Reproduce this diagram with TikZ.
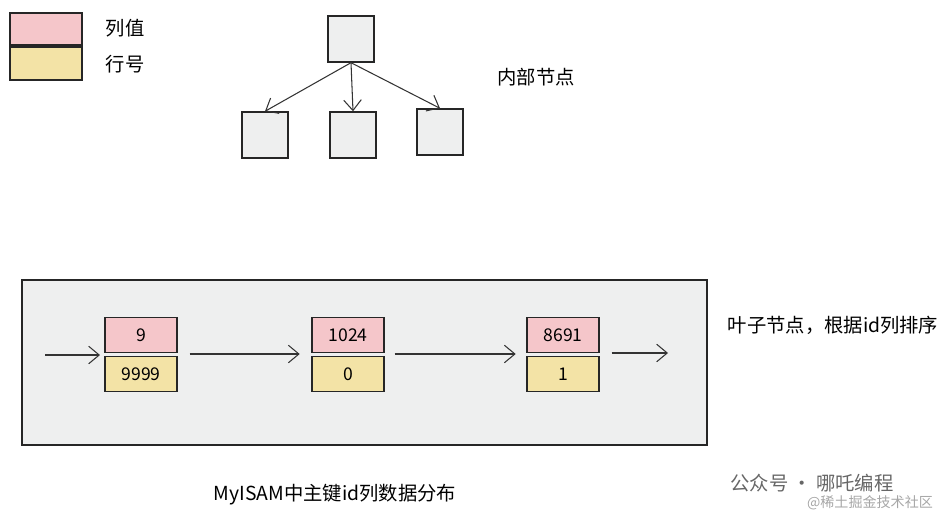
\documentclass[tikz,border=0pt]{standalone}
\usepackage{fontspec}
\setmainfont{Noto Sans CJK SC}
\usetikzlibrary{arrows.meta}
\definecolor{cellred}{HTML}{F5C6CA}
\definecolor{cellyellow}{HTML}{F3E3A6}
\definecolor{boxgray}{HTML}{EEEFEF}
\tikzset{
    cell/.style = {draw = black!85, thick},
    link/.style = {draw = black!80, semithick, -{Straight Barb[length=6pt,width=10pt]}},
    lbl/.style = {font = \fontsize{11}{13}\selectfont}
}
\begin{document}
\begin{tikzpicture}[x=0.02cm,y=-0.02cm]
    \useasboundingbox (0,0) rectangle (952,520);
    % legend
    \draw[cell, fill = cellred] (10,13) rectangle (82,45);
    \draw[cell, fill = cellyellow] (10,47) rectangle (82,80);
    \node[lbl] (lgval) at (125,28) {列值};
    \node[lbl] (lgrow) at (125,64) {行号};
    % inner nodes
    \node[cell, fill = boxgray, minimum size = 0.92cm, inner sep = 0pt] (root) at (351,39) {};
    \node[cell, fill = boxgray, minimum size = 0.92cm, inner sep = 0pt] (kidA) at (265,135) {};
    \node[cell, fill = boxgray, minimum size = 0.92cm, inner sep = 0pt] (kidB) at (353,135) {};
    \node[cell, fill = boxgray, minimum size = 0.92cm, inner sep = 0pt] (kidC) at (440,132) {};
    \draw[link] (root.south) -- (kidA.north);
    \draw[link] (root.south) -- (kidB.north);
    \draw[link] (root.south) -- (kidC.north);
    \node[lbl] (innerlbl) at (536,77) {内部节点};
    % leaf level
    \draw[cell, fill = boxgray] (22,280) rectangle (707,445);
    \foreach \x/\v/\r in {141/9/9999, 348/1024/0, 563/8691/1} {
        \node[cell, fill = cellred, minimum width = 1.44cm, minimum height = 0.7cm, inner sep = 0pt, anchor = south]
            (val\v) at (\x,353) {\v};
        \node[cell, fill = cellyellow, minimum width = 1.44cm, minimum height = 0.7cm, inner sep = 0pt, anchor = north]
            (row\v) at (\x,356) {\r};
    }
    \coordinate (start) at (45,355);
    \coordinate (finish) at (668,353);
    \draw[link] (start) -- ++(55,0);
    \draw[link] (row9.north east) ++(12,-2) -- ++(110,0);
    \draw[link] (row1024.north east) ++(10,-2) -- ++(121,0);
    \draw[link] (row8691.north east) ++(12,-3) -- (finish);
    \node[lbl] (leaflbl) at (833,325) {叶子节点，根据id列排序};
    \node[lbl] (caption) at (335,495) {MyISAM中主键id列数据分布};
    \node[lbl, text = black!60] (wm) at (812,483) {公众号 · 哪吒编程};
    \node[font = \footnotesize, text = black!35] (wm2) at (870,503) {@稀土掘金技术社区};
\end{tikzpicture}
\end{document}
